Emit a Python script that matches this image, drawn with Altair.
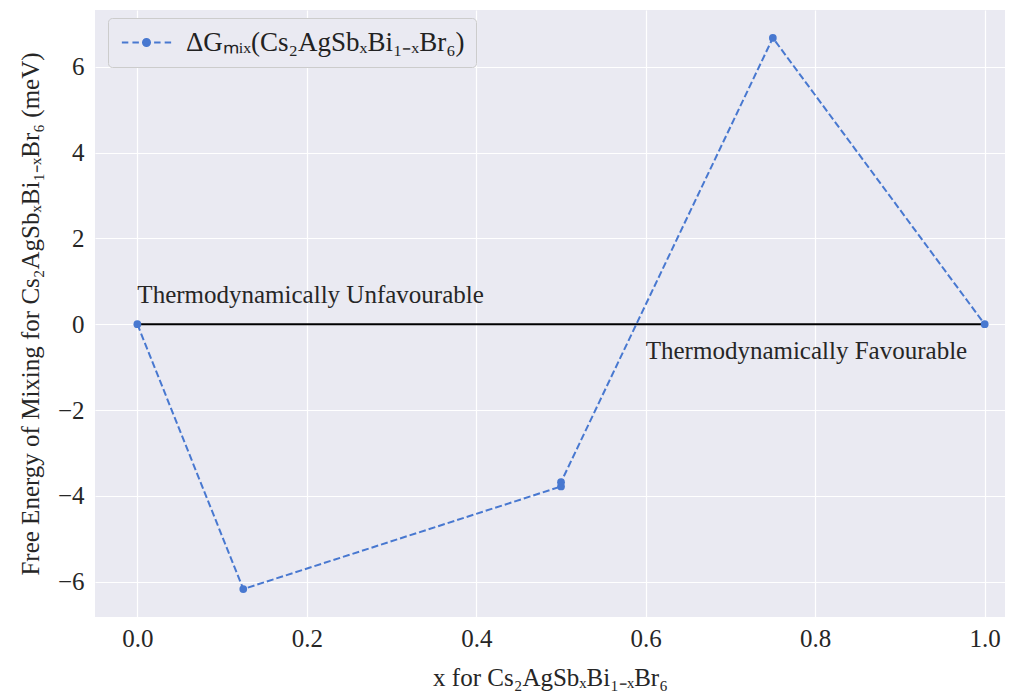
import altair as alt
import pandas as pd

x_vals = [0.0, 0.125, 0.5, 0.5, 0.75, 1.0]
g_vals = [0.0, -6.17, -3.78, -3.68, 6.67, 0.0]
series_name = "ΔGₘᵢₓ(Cs₂AgSbₓBi₁₋ₓBr₆)"
ref_x = [0.0, 1.0]
ref_y = [0.0, 0.0]
ann_text = ["Thermodynamically Unfavourable", "Thermodynamically Favourable"]
ann_x = [0.0, 0.6]
ann_y = [0.49, -0.81]

df = pd.DataFrame({"x": x_vals, "g": g_vals, "s": [series_name] * len(x_vals), "o": list(range(len(x_vals)))})
ref = pd.DataFrame({"x": ref_x, "g": ref_y})
ann = pd.DataFrame({"t": ann_text, "x": ann_x, "g": ann_y})

FONT = "Liberation Serif"
BLUE = "#4878D0"

xs = alt.Scale(domain=[-0.05, 1.024], nice=False, zero=False)
ys = alt.Scale(domain=[-6.82, 7.32], nice=False, zero=False)

xax = alt.Axis(values=[0, 0.2, 0.4, 0.6, 0.8, 1.0], format=".1f", title="x for Cs₂AgSbₓBi₁₋ₓBr₆",
               titlePadding=14, labelPadding=9, labelFont=FONT, titleFont=FONT,
               labelFontSize=25, titleFontSize=25)
yax = alt.Axis(values=[-6, -4, -2, 0, 2, 4, 6], format="d",
               title="Free Energy of Mixing for Cs₂AgSbₓBi₁₋ₓBr₆ (meV)", titlePadding=14, labelPadding=11,
               labelFont=FONT, titleFont=FONT, labelFontSize=25, titleFontSize=25)

base_ref = alt.Chart(ref).mark_line(color="black", strokeWidth=2).encode(
    x=alt.X("x:Q", scale=xs, axis=xax), y=alt.Y("g:Q", scale=ys, axis=yax))

legend_path = ("M-2.1,0H-1.55 M-1.2,0H-0.65 M0.65,0H1.2 M1.55,0H2.1 "
               "M0.3,0A0.3,0.3 0 1 1 -0.3,0A0.3,0.3 0 1 1 0.3,0Z")

line = alt.Chart(df).mark_line(strokeWidth=2, strokeDash=[7, 3]).encode(
    x="x:Q", y="g:Q", order="o:Q",
    color=alt.Color("s:N", scale=alt.Scale(range=[BLUE]),
                    legend=alt.Legend(title=None, orient="none", legendX=13, legendY=8,
                                      symbolType=legend_path, symbolSize=550,
                                      symbolFillColor=BLUE, symbolStrokeColor=BLUE,
                                      symbolStrokeWidth=2,
                                      labelFont=FONT, labelFontSize=27, labelColor="#222",
                                      fillColor="#EAEAF2", strokeColor="#CCCCCC",
                                      cornerRadius=4, padding=11, symbolOffset=14,
                                      labelOffset=26, labelLimit=600)))
pts = alt.Chart(df).mark_circle(size=60, opacity=1, color=BLUE).encode(x="x:Q", y="g:Q")

txt = alt.Chart(ann).mark_text(align="left", baseline="alphabetic", font=FONT, fontSize=25,
                               color="#262626").encode(x="x:Q", y="g:Q", text="t:N")

chart = alt.layer(base_ref, line, pts, txt).properties(
    width=910, height=607,
    autosize=alt.AutoSizeParams(type="none"),
    padding={"left": 87, "top": 2, "right": 0, "bottom": 76},
    background="white",
).configure_view(fill="#EAEAF2", stroke=None).configure_axis(
    grid=True, gridColor="white", gridWidth=1.2, domain=False, ticks=False,
    labelColor="#262626", titleFontWeight="normal", titleColor="#262626",
)

chart.save("out.html", embed_options={"renderer": "svg", "actions": False})
